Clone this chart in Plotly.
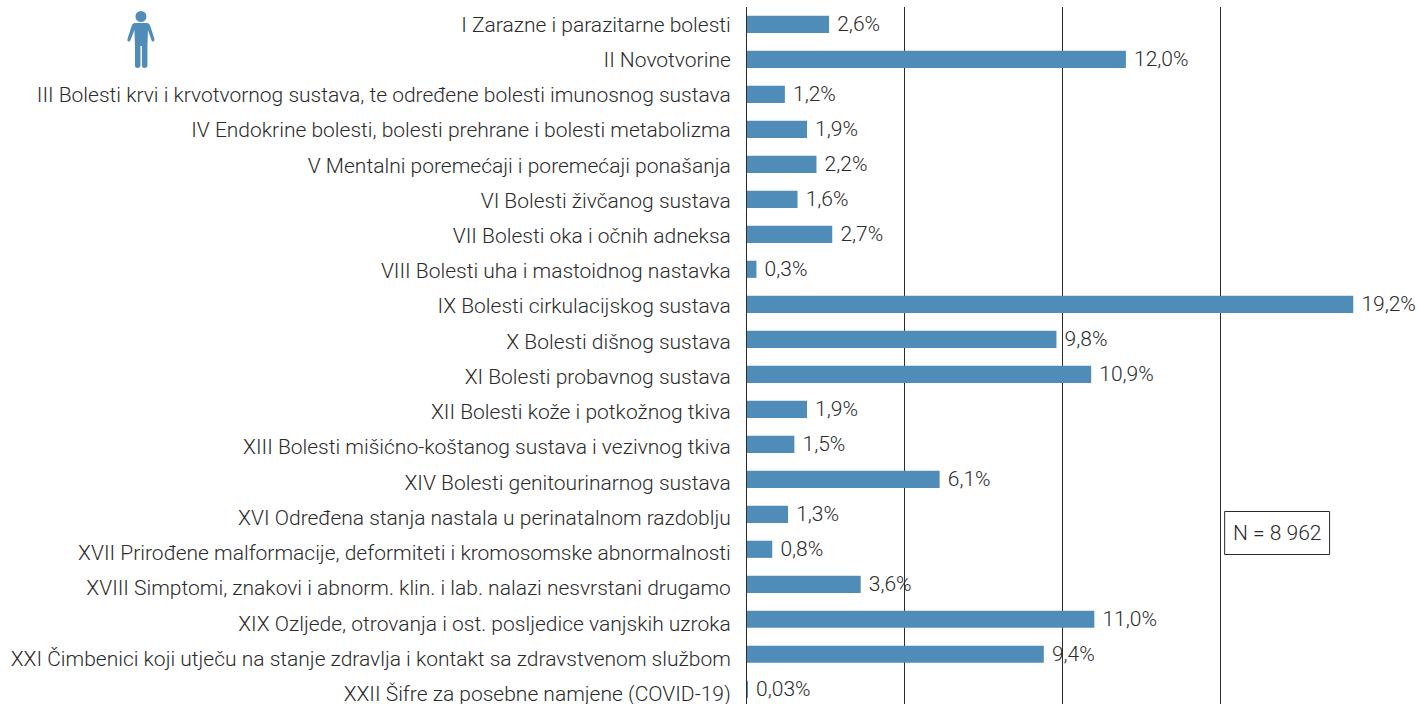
import plotly.graph_objects as go

categories = [
    "I Zarazne i parazitarne bolesti",
    "II Novotvorine",
    "III Bolesti krvi i krvotvornog sustava, te određene bolesti imunosnog sustava",
    "IV Endokrine bolesti, bolesti prehrane i bolesti metabolizma",
    "V Mentalni poremećaji i poremećaji ponašanja",
    "VI Bolesti živčanog sustava",
    "VII Bolesti oka i očnih adneksa",
    "VIII Bolesti uha i mastoidnog nastavka",
    "IX Bolesti cirkulacijskog sustava",
    "X Bolesti dišnog sustava",
    "XI Bolesti probavnog sustava",
    "XII Bolesti kože i potkožnog tkiva",
    "XIII Bolesti mišićno-koštanog sustava i vezivnog tkiva",
    "XIV Bolesti genitourinarnog sustava",
    "XVI Određena stanja nastala u perinatalnom razdoblju",
    "XVII Prirođene malformacije, deformiteti i kromosomske abnormalnosti",
    "XVIII Simptomi, znakovi i abnorm. klin. i lab. nalazi nesvrstani drugamo",
    "XIX Ozljede, otrovanja i ost. posljedice vanjskih uzroka",
    "XXI Čimbenici koji utječu na stanje zdravlja i kontakt sa zdravstvenom službom",
    "XXII Šifre za posebne namjene (COVID-19)",
]
values = [2.6, 12.0, 1.2, 1.9, 2.2, 1.6, 2.7, 0.3, 19.2, 9.8, 10.9, 1.9, 1.5, 6.1, 1.3, 0.8, 3.6, 11.0, 9.4, 0.03]
labels = ["2,6%", "12,0%", "1,2%", "1,9%", "2,2%", "1,6%", "2,7%", "0,3%", "19,2%", "9,8%", "10,9%", "1,9%", "1,5%", "6,1%", "1,3%", "0,8%", "3,6%", "11,0%", "9,4%", "0,03%"]
grid_ticks = [5, 10, 15]

BLUE = "#4f8db8"
INK = "#2b2b2b"
FONT = "Roboto"
FS = 21
W, H = 1418, 704
LEFT, TOP = 746.5, 7
STEP = 35.0
TICK_DRIFT = 1.0065  # category labels sit slightly lower than their bars further down

fig = go.Figure(go.Bar(
    y=list(range(len(categories))), x=values, orientation="h", width=0.49,
    marker=dict(color=BLUE, line=dict(width=0)),
    text=["\u00a0" + t for t in labels], textposition="outside", cliponaxis=False,
    constraintext="none",
    textfont=dict(family=FONT, size=FS, color=INK, weight=300),
    hoverinfo="skip",
))

fig.update_layout(
    width=W, height=H, margin=dict(l=LEFT, r=0, t=TOP, b=0, pad=0),
    paper_bgcolor="white", plot_bgcolor="white", showlegend=False,
    font=dict(family=FONT, size=FS, color=INK),
)
fig.update_xaxes(range=[0, (W - LEFT) / 31.6], tickvals=grid_ticks, showticklabels=False,
                 showgrid=True, gridcolor=INK, gridwidth=1, zeroline=False, ticks="")
y_top = (TOP - 24.3) / STEP
y_bot = (H - 24.3) / STEP
fig.update_yaxes(range=[y_bot, y_top], tickmode="array",
                 tickvals=[i * TICK_DRIFT for i in range(len(categories))],
                 ticktext=categories, showgrid=False, zeroline=False, showline=True,
                 linecolor=INK, linewidth=1, ticks="", ticklabelstandoff=11, automargin=False,
                 ticklabeloverflow="allow",
                 tickfont=dict(family=FONT, size=FS, color=INK, weight=300))

def fx(x): return (x - LEFT) / (W - LEFT)
def fy(y): return 1 - (y - TOP) / (H - TOP)

# person icon, decoration placed in page pixels
person = [("M", 134, 23), ("L", 146, 23), ("Q", 148, 23, 149, 25), ("L", 153.5, 39),
          ("Q", 154, 41, 152.5, 41.5), ("Q", 151, 42, 150.5, 40), ("L", 147, 30), ("L", 146.5, 46),
          ("L", 146.5, 66), ("Q", 146, 68, 143.5, 68), ("Q", 141, 68, 141, 66), ("L", 141, 46),
          ("L", 139.5, 46), ("L", 139.5, 66), ("Q", 139, 68, 136.5, 68), ("Q", 134, 68, 134, 66),
          ("L", 134, 46), ("L", 133.5, 30), ("L", 129.5, 40), ("Q", 129, 42, 127.5, 41.5),
          ("Q", 126, 41, 126.5, 39), ("L", 131, 25), ("Q", 132, 23, 134, 23)]
parts = []
for seg in person:
    nums = seg[1:]
    coords = [str(fx(n)) if k % 2 == 0 else str(fy(n)) for k, n in enumerate(nums)]
    parts.append(seg[0] + " " + " ".join(coords))
fig.add_shape(type="path", path=" ".join(parts) + " Z", xref="paper", yref="paper",
              fillcolor=BLUE, line=dict(width=0), layer="above")
fig.add_shape(type="circle", xref="paper", yref="paper", x0=fx(134.5), x1=fx(145.5), y0=fy(22), y1=fy(11),
              fillcolor=BLUE, line=dict(width=0), layer="above")

fig.add_shape(type="rect", xref="paper", yref="paper", x0=fx(1224.5), x1=fx(1329.5), y0=fy(554.5), y1=fy(511.5),
              fillcolor="white", line=dict(color=INK, width=1), layer="above")
fig.add_annotation(text="N = 8 962", xref="paper", yref="paper", x=fx(1277), y=fy(533), showarrow=False,
                   xanchor="center", yanchor="middle", font=dict(family=FONT, size=FS, color=INK, weight=300))

fig.write_html("out.html", config={"displayModeBar": False},
               post_script="document.body.style.margin='0';document.documentElement.style.overflow='hidden';")
